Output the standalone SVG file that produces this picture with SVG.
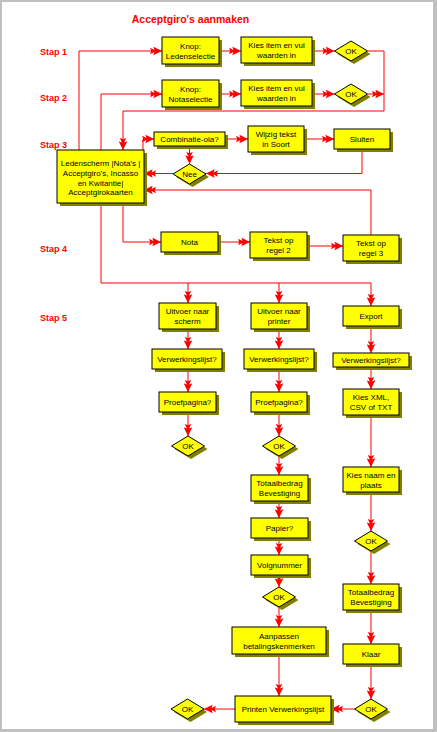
<svg xmlns="http://www.w3.org/2000/svg" width="437" height="732" viewBox="0 0 437 732">
<style>
.bx{fill:#ffff00;stroke:#000;stroke-width:1}
.sh{fill:#808000}
.t{font-family:"Liberation Sans",Arial,sans-serif;font-size:8px;text-anchor:middle;fill:#000}
.st{font-family:"Liberation Sans",Arial,sans-serif;font-size:9px;font-weight:bold;fill:#ff0000}
.c{fill:none;stroke:#ff0000;stroke-width:1;marker-end:url(#a)}
.l{fill:none;stroke:#ff0000;stroke-width:1}
</style>
<defs>
<marker id="a" markerUnits="userSpaceOnUse" markerWidth="13" markerHeight="9" viewBox="0 0 12 8" refX="12" refY="4" orient="auto">
<path d="M12,4 L4,0 L5,3 L1,1 L2,4 L1,7 L5,5 L4,8 Z" fill="#ff0000"/>
</marker>
<symbol id="dm" overflow="visible"><polygon points="-16.5,0 0,-10 16.5,0 0,10"/></symbol>
</defs>
<rect x="0" y="0" width="437" height="732" fill="#c0c0c0"/>
<rect x="2" y="2" width="431" height="727" fill="#ffffff"/>
<text x="190.5" y="22.5" font-family="'Liberation Sans',Arial,sans-serif" font-size="10.5" font-weight="bold" fill="#ff0000" text-anchor="middle">Acceptgiro's aanmaken</text>
<text class="st" x="40" y="55">Stap 1</text>
<text class="st" x="40" y="101">Stap 2</text>
<text class="st" x="40" y="148">Stap 3</text>
<text class="st" x="40" y="252">Stap 4</text>
<text class="st" x="40" y="321">Stap 5</text>
<g id="connectors">
<path class="c" d="M79,150 V51 H162"/>
<path class="c" d="M219,51 H241"/>
<path class="c" d="M312,51 H334.5"/>
<path class="c" d="M367.5,51 H384 V111 H123 V150"/>
<path class="c" d="M101,150 V94 H162"/>
<path class="c" d="M219,94 H241"/>
<path class="c" d="M312,94 H334.5"/>
<path class="c" d="M367.5,94 H384"/>
<path class="c" d="M143,150 V139 H154"/>
<path class="c" d="M225,139 H248"/>
<path class="c" d="M304,139 H334"/>
<path class="c" d="M189.5,146 V164"/>
<path class="c" d="M362,149 V173.5 H206"/>
<path class="c" d="M173,173.5 H144"/>
<path class="c" d="M371,235 V190 H144"/>
<path class="c" d="M123,203 V242 H161"/>
<path class="c" d="M218,242 H250"/>
<path class="c" d="M307,246 H343"/>
<path class="c" d="M101,203 V283 H371 V306"/>
<path class="c" d="M188,283 V303"/>
<path class="c" d="M279,283 V303"/>
<path class="c" d="M188,329 V349"/>
<path class="c" d="M188,369 V392"/>
<path class="c" d="M188,412 V436"/>
<path class="c" d="M279,329 V349"/>
<path class="c" d="M279,369 V392"/>
<path class="c" d="M279,412 V436"/>
<path class="c" d="M279,456 V475"/>
<path class="c" d="M279,501 V518"/>
<path class="c" d="M279,538 V555"/>
<path class="c" d="M279,575 V587"/>
<path class="c" d="M279,607 V627"/>
<path class="c" d="M279,654 V696"/>
<path class="c" d="M371,326 V353"/>
<path class="c" d="M371,367 V389"/>
<path class="c" d="M371,415 V467"/>
<path class="c" d="M371,492 V531"/>
<path class="c" d="M371,551 V584"/>
<path class="c" d="M371,610 V644"/>
<path class="c" d="M371,664 V699"/>
<path class="c" d="M354.5,709 H331"/>
<path class="c" d="M235,709 H204"/>
</g>
<g id="n_knop1"><rect class="sh" x="165" y="40" width="57" height="27"/><rect class="bx" x="162" y="37" width="57" height="27"/><text class="t" x="190.5" y="48.5">Knop:</text><text class="t" x="190.5" y="58.5">Ledenselectie</text></g>
<g id="n_kies1"><rect class="sh" x="244" y="40" width="71" height="26"/><rect class="bx" x="241" y="37" width="71" height="26"/><text class="t" x="276.5" y="48">Kies item en vul</text><text class="t" x="276.5" y="58">waarden in</text></g>
<g id="n_ok1"><use href="#dm" x="354" y="54" class="sh"/><use href="#dm" x="351" y="51" class="bx"/><text class="t" x="351" y="54">OK</text></g>
<g id="n_knop2"><rect class="sh" x="165" y="83" width="57" height="27"/><rect class="bx" x="162" y="80" width="57" height="27"/><text class="t" x="190.5" y="91.5">Knop:</text><text class="t" x="190.5" y="101.5">Notaselectie</text></g>
<g id="n_kies2"><rect class="sh" x="244" y="83" width="71" height="26"/><rect class="bx" x="241" y="80" width="71" height="26"/><text class="t" x="276.5" y="91">Kies item en vul</text><text class="t" x="276.5" y="101">waarden in</text></g>
<g id="n_ok2"><use href="#dm" x="354" y="97" class="sh"/><use href="#dm" x="351" y="94" class="bx"/><text class="t" x="351" y="97">OK</text></g>
<g id="n_leden"><rect class="sh" x="60" y="153" width="87" height="53"/><rect class="bx" x="57" y="150" width="87" height="53"/><text class="t" x="100.5" y="165.5">Ledenscherm |Nota's |</text><text class="t" x="100.5" y="175.5">Acceptgiro's, Incasso</text><text class="t" x="100.5" y="185.5">en Kwitantie|</text><text class="t" x="100.5" y="195">Acceptgirokaarten</text></g>
<g id="n_comb"><rect class="sh" x="157" y="135" width="71" height="14"/><rect class="bx" x="154" y="132" width="71" height="14"/><text class="t" x="189.5" y="142">Combinatie-ola?</text></g>
<g id="n_wijzig"><rect class="sh" x="251" y="129" width="56" height="26"/><rect class="bx" x="248" y="126" width="56" height="26"/><text class="t" x="276" y="137">Wijzig tekst</text><text class="t" x="276" y="147">in Soort</text></g>
<g id="n_sluiten"><rect class="sh" x="337" y="132" width="56" height="20"/><rect class="bx" x="334" y="129" width="56" height="20"/><text class="t" x="362" y="142">Sluiten</text></g>
<g id="n_nee"><use href="#dm" x="192.5" y="177" class="sh"/><use href="#dm" x="189.5" y="174" class="bx"/><text class="t" x="189.5" y="177">Nee</text></g>
<g id="n_nota"><rect class="sh" x="164" y="235" width="57" height="20"/><rect class="bx" x="161" y="232" width="57" height="20"/><text class="t" x="189.5" y="245">Nota</text></g>
<g id="n_tekst2"><rect class="sh" x="253" y="235" width="57" height="26"/><rect class="bx" x="250" y="232" width="57" height="26"/><text class="t" x="278.5" y="243">Tekst op</text><text class="t" x="278.5" y="253">regel 2</text></g>
<g id="n_tekst3"><rect class="sh" x="346" y="238" width="56" height="26"/><rect class="bx" x="343" y="235" width="56" height="26"/><text class="t" x="371" y="246">Tekst op</text><text class="t" x="371" y="256">regel 3</text></g>
<g id="n_uit1"><rect class="sh" x="162" y="306" width="57" height="26"/><rect class="bx" x="159" y="303" width="57" height="26"/><text class="t" x="187.5" y="314">Uitvoer naar</text><text class="t" x="187.5" y="324">scherm</text></g>
<g id="n_uit2"><rect class="sh" x="254" y="306" width="56" height="26"/><rect class="bx" x="251" y="303" width="56" height="26"/><text class="t" x="279" y="314">Uitvoer naar</text><text class="t" x="279" y="324">printer</text></g>
<g id="n_export"><rect class="sh" x="346" y="309" width="56" height="20"/><rect class="bx" x="343" y="306" width="56" height="20"/><text class="t" x="371" y="319">Export</text></g>
<g id="n_verw1"><rect class="sh" x="155" y="352" width="70" height="20"/><rect class="bx" x="152" y="349" width="70" height="20"/><text class="t" x="187" y="362">Verwerkingslijst?</text></g>
<g id="n_verw2"><rect class="sh" x="247" y="352" width="70" height="20"/><rect class="bx" x="244" y="349" width="70" height="20"/><text class="t" x="279" y="362">Verwerkingslijst?</text></g>
<g id="n_verw3"><rect class="sh" x="336" y="356" width="76" height="14"/><rect class="bx" x="333" y="353" width="76" height="14"/><text class="t" x="371" y="363">Verwerkingslijst?</text></g>
<g id="n_proef1"><rect class="sh" x="162" y="395" width="57" height="20"/><rect class="bx" x="159" y="392" width="57" height="20"/><text class="t" x="187.5" y="405">Proefpagina?</text></g>
<g id="n_proef2"><rect class="sh" x="254" y="395" width="56" height="20"/><rect class="bx" x="251" y="392" width="56" height="20"/><text class="t" x="279" y="405">Proefpagina?</text></g>
<g id="n_kiesxml"><rect class="sh" x="346" y="392" width="56" height="26"/><rect class="bx" x="343" y="389" width="56" height="26"/><text class="t" x="371" y="400">Kies XML,</text><text class="t" x="371" y="410">CSV of TXT</text></g>
<g id="n_ok3"><use href="#dm" x="191" y="449" class="sh"/><use href="#dm" x="188" y="446" class="bx"/><text class="t" x="188" y="449">OK</text></g>
<g id="n_ok4"><use href="#dm" x="282" y="449" class="sh"/><use href="#dm" x="279" y="446" class="bx"/><text class="t" x="279" y="449">OK</text></g>
<g id="n_totaal1"><rect class="sh" x="254" y="478" width="57" height="26"/><rect class="bx" x="251" y="475" width="57" height="26"/><text class="t" x="279.5" y="486">Totaalbedrag</text><text class="t" x="279.5" y="496">Bevestiging</text></g>
<g id="n_papier"><rect class="sh" x="254" y="521" width="57" height="20"/><rect class="bx" x="251" y="518" width="57" height="20"/><text class="t" x="279.5" y="531">Papier?</text></g>
<g id="n_volg"><rect class="sh" x="254" y="558" width="57" height="20"/><rect class="bx" x="251" y="555" width="57" height="20"/><text class="t" x="279.5" y="568">Volgnummer</text></g>
<g id="n_ok5"><use href="#dm" x="282" y="600" class="sh"/><use href="#dm" x="279" y="597" class="bx"/><text class="t" x="279" y="600">OK</text></g>
<g id="n_aanpassen"><rect class="sh" x="235" y="630" width="94" height="27"/><rect class="bx" x="232" y="627" width="94" height="27"/><text class="t" x="279" y="638.5">Aanpassen</text><text class="t" x="279" y="648.5">betalingskenmerken</text></g>
<g id="n_kiesnaam"><rect class="sh" x="346" y="470" width="56" height="25"/><rect class="bx" x="343" y="467" width="56" height="25"/><text class="t" x="371" y="477.5">Kies naam en</text><text class="t" x="371" y="487.5">plaats</text></g>
<g id="n_ok6"><use href="#dm" x="374" y="544" class="sh"/><use href="#dm" x="371" y="541" class="bx"/><text class="t" x="371" y="544">OK</text></g>
<g id="n_totaal2"><rect class="sh" x="346" y="587" width="56" height="26"/><rect class="bx" x="343" y="584" width="56" height="26"/><text class="t" x="371" y="595">Totaalbedrag</text><text class="t" x="371" y="605">Bevestiging</text></g>
<g id="n_klaar"><rect class="sh" x="346" y="647" width="56" height="20"/><rect class="bx" x="343" y="644" width="56" height="20"/><text class="t" x="371" y="657">Klaar</text></g>
<g id="n_ok7"><use href="#dm" x="374" y="712" class="sh"/><use href="#dm" x="371" y="709" class="bx"/><text class="t" x="371" y="712">OK</text></g>
<g id="n_printen"><rect class="sh" x="238" y="699" width="96" height="26"/><rect class="bx" x="235" y="696" width="96" height="26"/><text class="t" x="283" y="712">Printen Verwerkingslijst</text></g>
<g id="n_ok8"><use href="#dm" x="190.5" y="712" class="sh"/><use href="#dm" x="187.5" y="709" class="bx"/><text class="t" x="187.5" y="712">OK</text></g>
</svg>
